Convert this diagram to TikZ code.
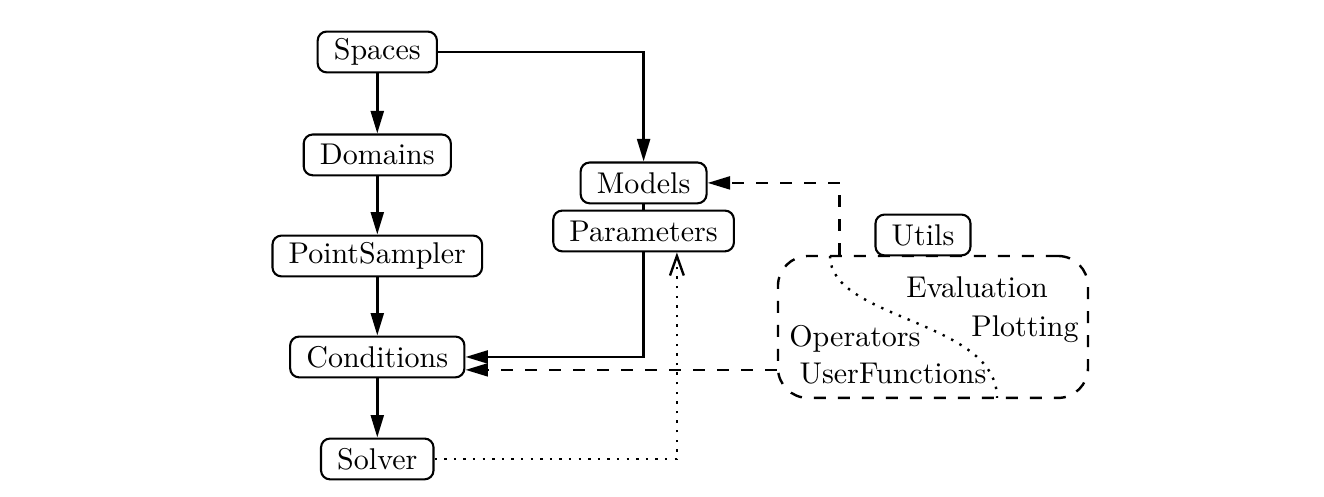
\documentclass[tikz,border=0pt]{standalone}
\usepackage{tikz}
\usetikzlibrary{arrows.meta,calc}
\tikzset{
	module/.style={draw, rounded corners=3pt, line width=0.7pt, minimum height=13.6pt, inner xsep=5.4pt, inner ysep=2pt},
	dep/.style={line width=0.85pt, -{Triangle[length=7.5pt,width=4.3pt]}},
	optdep/.style={dep, dash pattern=on 4pt off 4pt},
	usedep/.style={line width=0.8pt, dash pattern=on 0.8pt off 2.4pt, -{Straight Barb[length=6.5pt,width=4.6pt]}}
}
\begin{document}
\begin{tikzpicture}
			%%%%% START %%%%%
			
			\useasboundingbox (0, 0) rectangle (15.511, 5.822);
			
			\node[module] (Spaces) at (4.42, 5.213) {Spaces};
			\node[module] (Domains) at (4.42, 4.007) {Domains};
			\node[module] (PointSampler) at (4.42, 2.823) {PointSampler};
			\node[module] (Conditions) at (4.42, 1.640) {Conditions};
			\node[module] (Solver) at (4.42, 0.445) {Solver};
			
			\node[module] (Models) at (7.54, 3.679) {Models};
			\node[module] (Parameters) at (7.54, 3.116) {Parameters};
			
			\node[module] (Utils) at (10.813, 3.069) {Utils};
			\node[draw, rounded corners=10pt, line width=0.8pt, dash pattern=on 4pt off 4pt, minimum width=3.632cm, minimum height=1.663cm] (UtilsBox) at (10.93, 1.9915) {};
			\draw[line width=0.8pt, dash pattern=on 0.8pt off 2.4pt] (9.724, 2.823) .. controls (9.724, 2.074) and (11.68, 2.074) .. (11.68, 1.16);
			
			\node (Evaluation) at (11.446, 2.460) {Evaluation};
			\node (Plotting) at (12.008, 1.968) {Plotting};
			\node (Operators) at (10.016, 1.851) {Operators};
			\node (UserFunctions) at (10.461, 1.441) {UserFunctions};
			
			\draw[dep] (Spaces) -- (Domains);
			\draw[dep] (Domains) -- (PointSampler);
			\draw[dep] (PointSampler) -- (Conditions);
			\draw[dep] (Conditions) -- (Solver);
			\draw[dep] (Spaces.east) -| (Models.north);
			\draw[line width=0.8pt] (Models) -- (Parameters);
			\draw[dep] (Parameters.south) |- (Conditions.east);
			
			\coordinate (UtilsTop) at ($(UtilsBox.north west)+(0.738, 0)$);
			\draw[optdep] (UtilsTop) |- (Models.east);
			\coordinate (OptIn) at ($(Conditions.south east)+(0, 0.1)$);
			\draw[optdep] (UtilsBox.west |- OptIn) -- (OptIn);
			
			\coordinate (UseIn) at ($(Parameters.south)+(0.39, 0)$);
			\draw[usedep] (Solver.east) -| (UseIn);
			
			%%%%% END %%%%%
\end{tikzpicture}
\end{document}
